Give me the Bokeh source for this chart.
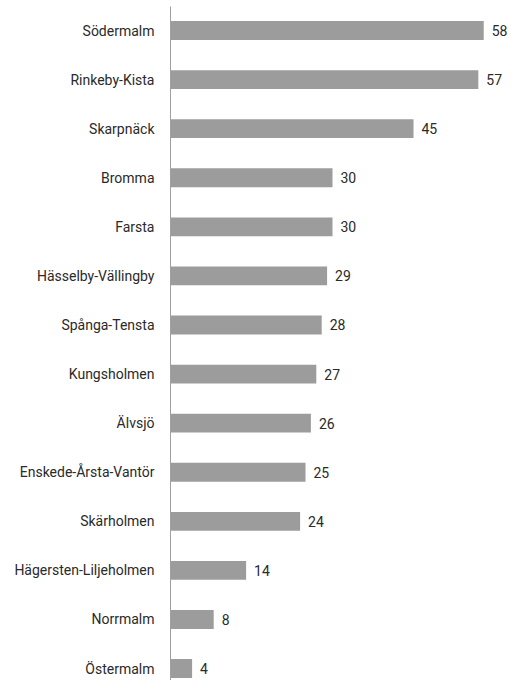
from bokeh.plotting import figure
from bokeh.models import ColumnDataSource, Range1d, LabelSet, FixedTicker
from bokeh.core.properties import value
from bokeh.embed import file_html
from bokeh.resources import INLINE

districts = ["Södermalm", "Rinkeby-Kista", "Skarpnäck", "Bromma", "Farsta",
             "Hässelby-Vällingby", "Spånga-Tensta", "Kungsholmen", "Älvsjö",
             "Enskede-Årsta-Vantör", "Skärholmen", "Hägersten-Liljeholmen",
             "Norrmalm", "Östermalm"]
values = [58, 57, 45, 30, 30, 29, 28, 27, 26, 25, 24, 14, 8, 4]
value_labels = [str(v) for v in values]
positions = list(range(len(districts)))

FONT = "Roboto"

source = ColumnDataSource(dict(y=positions, v=values, lab=value_labels))

p = figure(width=510, height=680, output_backend="svg", toolbar_location=None,
           x_range=Range1d(0, 62.96), y_range=Range1d(13.243, -0.489),
           min_border_left=170, min_border_right=0, min_border_top=6,
           min_border_bottom=0, x_axis_location=None)
p.outline_line_color = None
p.grid.visible = False
p.background_fill_color = "white"
p.border_fill_color = "white"

p.hbar(y="y", left=0, right="v", height=0.385, source=source,
       fill_color="#9c9c9c", line_color=None)

labels = LabelSet(x="v", y="y", text="lab", source=source, x_offset=8,
                  text_baseline="middle", text_align="left",
                  text_font_size="14px", text_color="#2a2a2a",
                  text_font=value(FONT))
p.add_layout(labels)

ax = p.yaxis[0]
ax.ticker = FixedTicker(ticks=positions)
ax.major_label_overrides = {i: d for i, d in enumerate(districts)}
ax.major_tick_line_color = None
ax.minor_tick_line_color = None
ax.major_tick_out = 0
ax.major_tick_in = 0
ax.major_label_standoff = 16
ax.axis_line_color = "#a0a0a0"
ax.axis_line_width = 1
ax.major_label_text_font = FONT
ax.major_label_text_font_size = "14px"
ax.major_label_text_color = "#2a2a2a"

open("out.html", "w").write(file_html(p, INLINE))
